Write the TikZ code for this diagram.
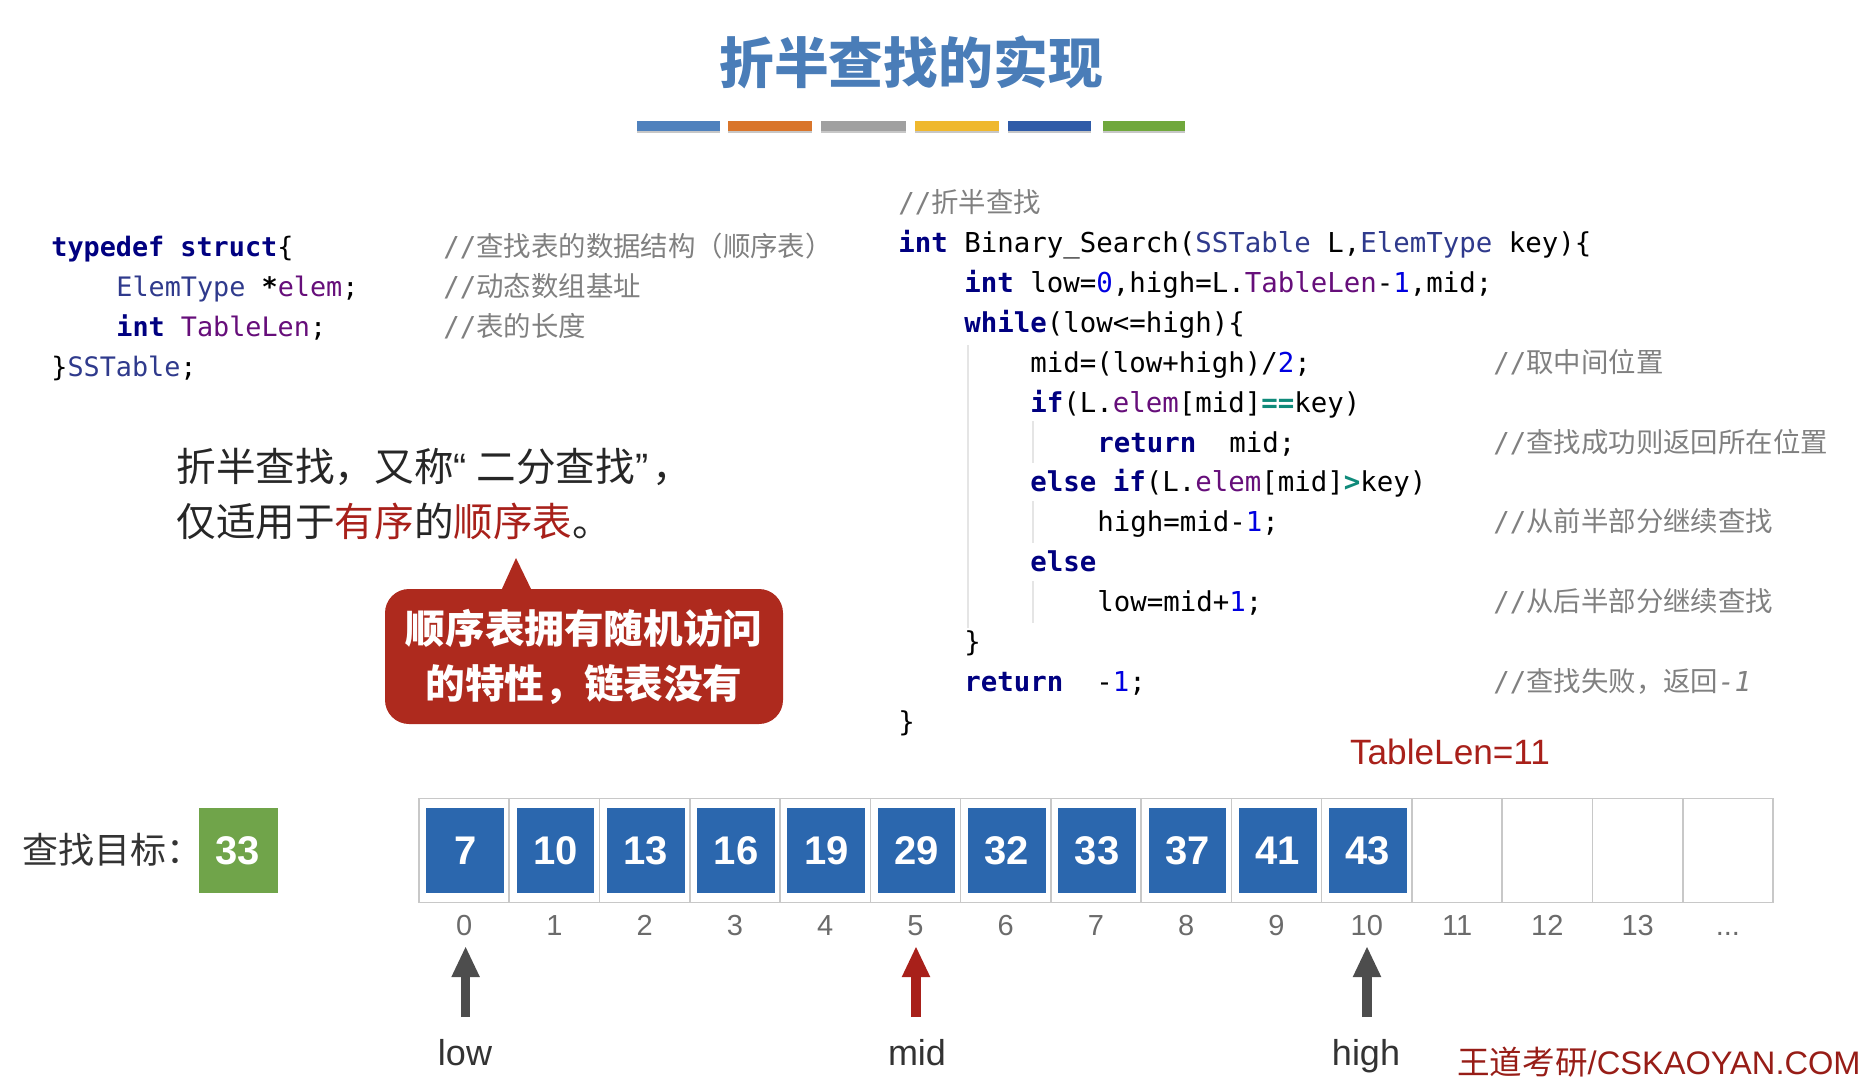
\documentclass[tikz,border=0pt]{standalone}
\usepackage{fontspec}
\usetikzlibrary{arrows.meta}
\setmainfont{Liberation Sans}
\setmonofont{DejaVu Sans Mono}
\newfontfamily\cjk{Noto Sans CJK SC}
\newfontfamily\latq{Liberation Sans}
\definecolor{titleblue}{HTML}{4A7DB8}
\definecolor{kwcol}{HTML}{000080}
\definecolor{tycol}{HTML}{2F3A8C}
\definecolor{pucol}{HTML}{660E7A}
\definecolor{nmcol}{HTML}{0000E0}
\definecolor{opcol}{HTML}{0F8A7A}
\definecolor{cmcol}{HTML}{808080}
\definecolor{redtxt}{HTML}{A8201A}
\definecolor{callred}{HTML}{AE2A1E}
\definecolor{cellblue}{HTML}{2B67AE}
\definecolor{cellline}{HTML}{C8C8C8}
\definecolor{okgreen}{HTML}{70A44A}
\definecolor{arrgray}{HTML}{4D4D4D}
\newcommand{\kw}[1]{{\bfseries\color{kwcol}#1}}
\newcommand{\tyc}[1]{{\color{tycol}#1}}
\newcommand{\puc}[1]{{\color{pucol}#1}}
\newcommand{\nmc}[1]{{\color{nmcol}#1}}
\newcommand{\opc}[1]{{\bfseries\color{opcol}#1}}
\newcommand{\cm}[1]{{\cjk #1}}
\newcommand{\redw}[1]{{\color{redtxt}#1}}
\tikzset{
  code/.style={anchor=base west,inner sep=0pt,text=black,font=\ttfamily\fontsize{13.7}{16}\selectfont},
  note/.style={anchor=base west,inner sep=0pt,text=cmcol,font=\ttfamily\fontsize{13.7}{16}\selectfont},
  lcode/.style={code,font=\ttfamily\fontsize{13.4}{16}\selectfont},
  bar/.style={minimum height=5pt,inner sep=0pt,anchor=north west},
  cell/.style={draw=cellline,line width=0.75pt,minimum width=45.135pt,minimum height=52pt,inner sep=0pt},
  valbox/.style={fill=cellblue,minimum width=38.85pt,minimum height=42.5pt,inner sep=0pt,text=white,font=\fontsize{20}{24}\selectfont\bfseries},
  idx/.style={inner sep=0pt,anchor=base,text=black!58,font=\fontsize{14.5}{17}\selectfont},
  ptr/.style={anchor=base,inner sep=0pt,text=black!80,font=\fontsize{18}{21}\selectfont},
  ptrarrow/.style={line width=4.6pt,-{Triangle[width=13pt,length=15.5pt]}},
  guide/.style={draw=black!10,line width=0.6pt},
  introtext/.style={anchor=base west,inner sep=0pt,text=black!85,font=\cjk\fontsize{19.8}{24}\selectfont},
}
\begin{document}
\begin{tikzpicture}[x=0.5pt,y=-0.5pt]
\useasboundingbox (0,0) rectangle (1861,1079);
% title
\node[inner sep=0pt,text=titleblue,font=\cjk\fontsize{27.4}{32}\selectfont\bfseries] (title) at (911,62) {折半查找的实现};
% colour bars
\foreach \xa/\bw/\bc [count=\k] in {637/83/4F81BD,728/84/D9752B,821/85/A0A0A0,915/84/EFB82E,1008/83/2F5BA8,1103/82/70A83C}{
  \definecolor{barcol}{HTML}{\bc}
  \fill[black!22] (\xa,123) rectangle ++(\bw,10);
  \node[bar,fill=barcol,minimum width=\bw*0.5pt] (bar\k) at (\xa,121) {};
}
% struct
\node[lcode] (s1) at (51,257) {\kw{typedef struct}\{};
\node[lcode] (s2) at (116,297) {\tyc{ElemType} \textbf{*}\puc{elem};};
\node[lcode] (s3) at (116,337) {\kw{int} \puc{TableLen};};
\node[lcode] (s4) at (51,377) {\}\tyc{SSTable};};
\node[note] (sc1) at (443,257) {//\cm{查找表的数据结构（顺序表）}};
\node[note] (sc2) at (443,297) {//\cm{动态数组基址}};
\node[note] (sc3) at (443,337) {//\cm{表的长度}};
% function
\node[note] (l0) at (898,213) {//\cm{折半查找}};
\node[code] (l1) at (898,252.7) {\kw{int} Binary\_Search(\tyc{SSTable} L,\tyc{ElemType} key)\{};
\node[code] (l2) at (964,292.6) {\kw{int} low=\nmc{0},high=L.\puc{TableLen}-\nmc{1},mid;};
\node[code] (l3) at (964,332.5) {\kw{while}(low<=high)\{};
\node[code] (l4) at (1030,372.3) {mid=(low+high)/\nmc{2};};
\node[code] (l5) at (1030,412.2) {\kw{if}(L.\puc{elem}[mid]\opc{==}key)};
\node[code] (l6) at (1097,452) {\kw{return}\ \ mid;};
\node[code] (l7) at (1030,491.9) {\kw{else if}(L.\puc{elem}[mid]\opc{>}key)};
\node[code] (l8) at (1097,531.8) {high=mid-\nmc{1};};
\node[code] (l9) at (1030,571.6) {\kw{else}};
\node[code] (l10) at (1097,611.5) {low=mid+\nmc{1};};
\node[code] (l11) at (964,651.3) {\}};
\node[code] (l12) at (964,691.2) {\kw{return}\ \ -\nmc{1};};
\node[code] (l13) at (898,731) {\}};
\node[note] (c4) at (1493,372.3) {//\cm{取中间位置}};
\node[note] (c6) at (1493,452) {//\cm{查找成功则返回所在位置}};
\node[note] (c8) at (1493,531.8) {//\cm{从前半部分继续查找}};
\node[note] (c10) at (1493,611.5) {//\cm{从后半部分继续查找}};
\node[note] (c12) at (1493,691.2) {//\cm{查找失败，返回}\textit{-1}};
% indent guides
\draw[guide] (968,345) -- (968,628);
\draw[guide] (1033,421) -- (1033,463);
\draw[guide] (1033,501) -- (1033,543);
\draw[guide] (1033,581) -- (1033,623);
% intro text
\node[introtext] (intro1) at (176,481) {折半查找，又称{\latq “}\kern5pt 二分查找{\latq ”}\kern2pt ，};
\node[introtext] (intro2) at (176,536) {仅适用于\redw{有序}的\redw{顺序表}。};
% callout
\fill[callred] (501,591) -- (516,558) -- (532,591) -- cycle;
\node[fill=callred,rounded corners=12pt,minimum width=199pt,minimum height=67.5pt,inner sep=0pt,align=center,text=white,font=\cjk\fontsize{19.8}{27.5}\selectfont\bfseries] (callout) at (584,656.5) {顺序表拥有随机访问\\的特性，链表没有};
% TableLen
\node[inner sep=0pt,anchor=base,text=redtxt,font=\fontsize{17.6}{20}\selectfont] (tlen) at (1450,764) {TableLen=11};
% target
\node[anchor=base west,inner sep=0pt,text=black!80,font=\cjk\fontsize{18}{22}\selectfont] (tgtlabel) at (22,863) {查找目标：};
\node[fill=okgreen,minimum width=39.5pt,minimum height=42.5pt,inner sep=0pt,text=white,font=\fontsize{20}{24}\selectfont\bfseries] (tgt) at (238,850.5) {33};
% array cells and indices
\foreach \i in {0,1,2,3,4,5,6,7,8,9,10,11,12,13,14}{
  \node[cell] (c\i) at ({464.1+90.27*\i},850.5) {};
}
\foreach \i in {0,1,2,3,4,5,6,7,8,9,10,11,12,13}{
  \node[idx] (ix\i) at ({464.1+90.27*\i},935) {\i};
}
\node[idx] (ix14) at ({464.1+90.27*14},935) {{.}{.}{.}};
\foreach \vl [count=\i from 0] in {7,10,13,16,19,29,32,33,37,41,43}{
  \node[valbox] (b\i) at ({465.2+90.27*\i},850.5) {\vl};
}
% pointers
\node[ptr] (low) at (465,1065) {low};
\node[ptr] (mid) at (917,1065) {mid};
\node[ptr] (high) at (1366,1065) {high};
\coordinate (lowfoot) at (465.6,1017);
\coordinate (lowtip) at (465.6,946);
\coordinate (midfoot) at (916,1017);
\coordinate (midtip) at (916,946);
\coordinate (highfoot) at (1367,1017);
\coordinate (hightip) at (1367,946);
\draw[ptrarrow,arrgray] (lowfoot) -- (lowtip);
\draw[ptrarrow,redtxt] (midfoot) -- (midtip);
\draw[ptrarrow,arrgray] (highfoot) -- (hightip);
% brand
\node[anchor=base east,inner sep=0pt,text=redtxt!90!black,font=\fontsize{16.3}{20}\selectfont] (brand) at (1861,1074) {{\cjk 王道考研}/CSKAOYAN.COM};
\end{tikzpicture}
\end{document}
